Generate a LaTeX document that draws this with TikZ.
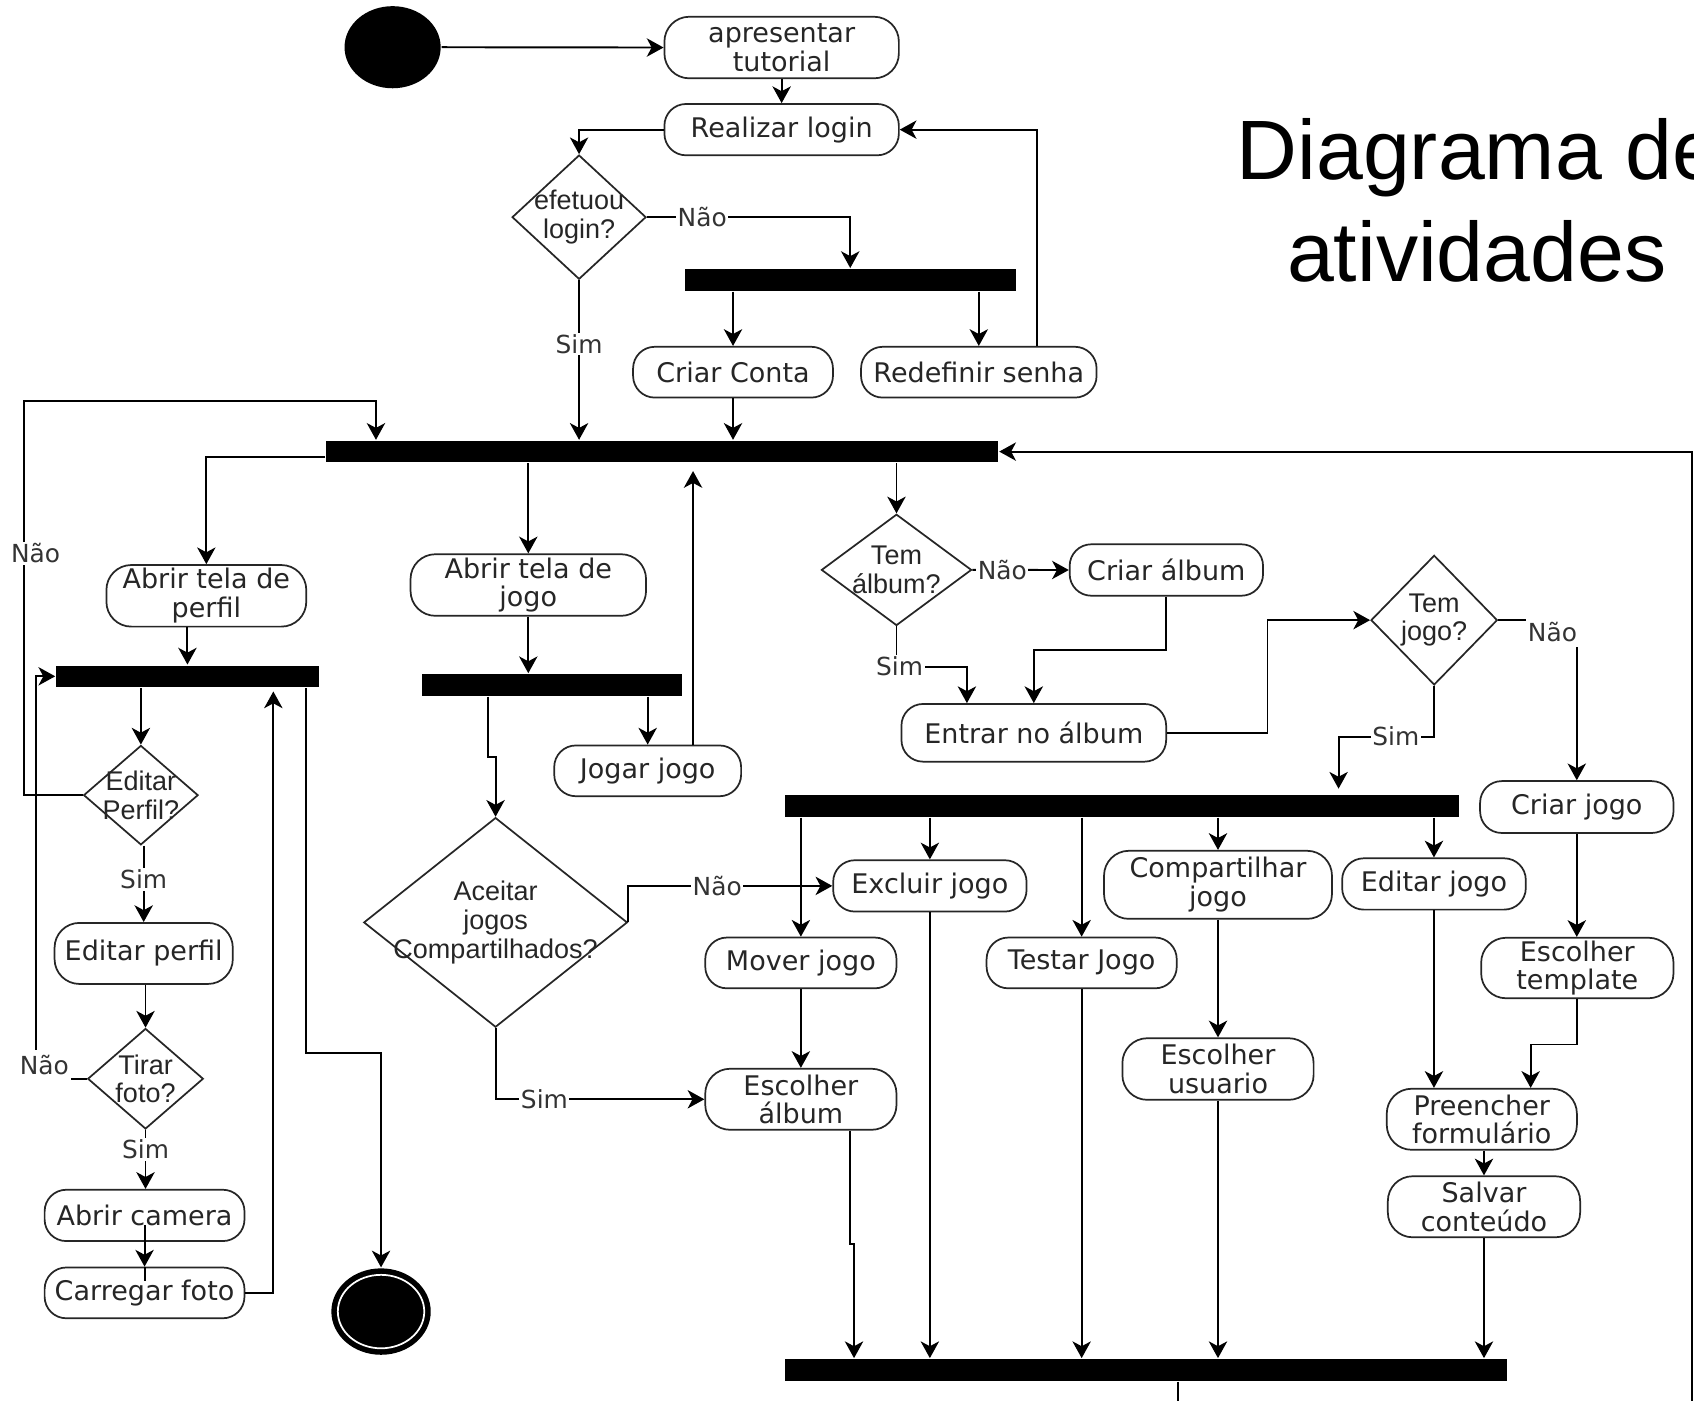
\documentclass[tikz,border=0pt]{standalone}
\usepackage{fontspec}
\newfontfamily\boxfont{DejaVu Sans}
\newfontfamily\helv{Liberation Sans}
\usetikzlibrary{shapes.geometric,arrows.meta}

\begin{document}
\begin{tikzpicture}[x=1pt,y=-1pt,
  line width=1.8pt,
  act/.style={draw=black!85, line width=1.6pt, rounded corners=20pt, inner sep=0pt,
    align=center, font=\boxfont\fontsize{25}{26.5}\selectfont, text=black!85},
  tall/.style={rounded corners=23pt},
  bar/.style={fill=black, draw=none, inner sep=0pt, minimum height=20pt},
  dec/.style={diamond, draw=black!85, line width=1.6pt, inner sep=0pt},
  dtext/.style={inner sep=0pt, align=center, font=\helv\fontsize{25}{26.5}\selectfont, text=black!85},
  lbl/.style={fill=white, inner sep=1.5pt, font=\boxfont\fontsize{23}{25}\selectfont, text=black!80},
  cornerlbl/.style={lbl, inner xsep=2pt, minimum height=28pt},
  arr/.style={-{Stealth[length=15.5pt,width=17pt,inset=4.5pt]}},
]
\useasboundingbox (0,0) rectangle (1568,1296);
\clip (0,0) rectangle (1568,1296);
\fill[white] (0,0) rectangle (1568,1296);

% ---------- title ----------
\node[anchor=base, inner sep=0pt, font=\helv\fontsize{78}{90}\selectfont] (title1) at (1368,166) {Diagrama de};
\node[anchor=base, inner sep=0pt, font=\helv\fontsize{78}{90}\selectfont] (title2) at (1367,260.7) {atividades};

% ---------- login part ----------
\node[ellipse, fill=black, minimum width=89pt, minimum height=76pt, inner sep=0pt] (start) at (363.4,43.7) {};
\node[act, tall, minimum width=217pt, minimum height=57pt] (tut) at (723.5,44) {apresentar\\tutorial};
\node[act, minimum width=217pt, minimum height=47.5pt] (login) at (723.5,120) {Realizar login};
\node[dec, minimum width=124pt, minimum height=115pt] (efe) at (536,201) {};
\node[dtext] (efe-t) at (efe) {efetuou\\login?};
\node[bar, minimum width=306pt] (fork1) at (787,259) {};
\node[act, minimum width=185pt, minimum height=47pt] (conta) at (678.5,344.5) {Criar Conta};
\node[act, minimum width=218pt, minimum height=47pt] (senha) at (906,344.5) {Redefinir senha};
\node[bar, minimum width=622pt] (main) at (613,418) {};

% ---------- profile branch ----------
\node[act, tall, minimum width=185pt, minimum height=57pt] (perfil) at (191,551.5) {Abrir tela de\\perfil};
\node[bar, minimum width=243pt] (fork2) at (173.5,626) {};
\node[dec, minimum width=106pt, minimum height=92pt] (edp) at (130.4,736) {};
\node[dtext] (edp-t) at (edp) {Editar\\Perfil?};
\node[act, tall, minimum width=165pt, minimum height=56.5pt] (edit) at (133,882.5) {Editar perfil};
\node[dec, minimum width=107pt, minimum height=93pt] (tirar) at (134.7,998.5) {};
\node[dtext] (tirar-t) at (tirar) {Tirar\\foto?};
\node[act, minimum width=185pt, minimum height=47.5pt] (cam) at (133.8,1125) {Abrir camera};
\node[act, minimum width=185pt, minimum height=47pt] (foto) at (133.8,1196.7) {Carregar foto};
\node[ellipse, fill=black, minimum width=92pt, minimum height=80pt, inner sep=0pt] (final) at (352.7,1214) {};
\draw[white, line width=1.6pt] (final.center) ellipse [x radius=40pt, y radius=34pt];

% ---------- game branch ----------
\node[act, tall, minimum width=218pt, minimum height=57pt] (jogo) at (489,541.5) {Abrir tela de\\jogo};
\node[bar, minimum width=240.5pt] (fork3) at (510.7,634) {};
\node[act, minimum width=173pt, minimum height=47pt] (jogar) at (599.5,713.5) {Jogar jogo};
\node[dec, minimum width=244pt, minimum height=194pt] (acc) at (458.7,853.8) {};
\node[dtext] (acc-t) at (acc) {Aceitar\\jogos\\Compartilhados?};

% ---------- album branch ----------
\node[dec, minimum width=139pt, minimum height=103pt] (tal) at (829.8,527.5) {};
\node[dtext] (tal-t) at (tal) {Tem\\álbum?};
\node[act, minimum width=179pt, minimum height=47.6pt] (calb) at (1079.6,527.6) {Criar álbum};
\node[act, minimum width=245pt, minimum height=53.4pt] (entrar) at (956.9,678.3) {Entrar no álbum};
\node[dec, minimum width=117pt, minimum height=120pt] (tjo) at (1327.5,574) {};
\node[dtext] (tjo-t) at (tjo) {Tem\\jogo?};
\node[bar, minimum width=623pt] (fork4) at (1038.5,746) {};
\node[act, minimum width=179pt, minimum height=48pt] (cjogo) at (1459.5,747) {Criar jogo};
\node[act, minimum width=179pt, minimum height=47.5pt] (excl) at (860.7,820) {Excluir jogo};
\node[act, minimum width=177pt, minimum height=47pt] (mover) at (741.3,891.3) {Mover jogo};
\node[act, minimum width=176pt, minimum height=47pt] (testar) at (1001.2,891.3) {Testar Jogo};
\node[act, tall, minimum width=211pt, minimum height=63pt] (comp) at (1127.4,819) {Compartilhar\\jogo};
\node[act, minimum width=170pt, minimum height=47.5pt] (editj) at (1327.3,818.2) {Editar jogo};
\node[act, tall, minimum width=177pt, minimum height=56.5pt] (escalb) at (741.3,1017.5) {Escolher\\álbum};
\node[act, tall, minimum width=177pt, minimum height=57pt] (escus) at (1127.4,989.5) {Escolher\\usuario};
\node[act, tall, minimum width=178pt, minimum height=56pt] (templ) at (1460,896) {Escolher\\template};
\node[act, tall, minimum width=176pt, minimum height=56.5pt] (preen) at (1371.6,1036) {Preencher\\formulário};
\node[act, tall, minimum width=178pt, minimum height=56.5pt] (salvar) at (1373.6,1117) {Salvar\\conteúdo};
\node[bar, minimum width=668pt] (fork5) at (1061,1268) {};

% ---------- bend points ----------
\coordinate (nl) at (22,371);
\coordinate (nr) at (348,371);
\coordinate (up1) at (641.5,436);
\coordinate (b1) at (452,701);
\coordinate (b2) at (283,974.5);
\coordinate (b3) at (253,640);
\coordinate (b4) at (33,626);
\coordinate (b5) at (895,617);
\coordinate (b6) at (956.9,601.6);
\coordinate (b7) at (1173.2,678.3);
\coordinate (b8) at (1239,681.8);
\coordinate (b8e) at (1239,730);
\coordinate (b9) at (787,1151.8);
\coordinate (b10) at (790.5,1151.8);
\coordinate (b11) at (1416.8,966.8);
\coordinate (b12) at (1090,1300);
\coordinate (b13) at (1566.5,1300);

% ---------- connectors: login part ----------
\draw[arr] (start.east) -- (tut.west);
\draw[arr] (tut.south) -- (login.north);
\draw[arr] (login.west) -| (efe.north);
\draw[arr] (efe.east) -| (fork1.north) node[lbl, pos=0.136] (l-n1) {Não};
\draw[arr] (fork1.south -| conta) -- (conta);
\draw[arr] (fork1.south -| senha) -- (senha);
\draw[arr] ([xshift=54pt]senha.north) |- (login.east);
\draw[arr] (efe.south) -- (efe.south |- main.north) node[lbl, pos=0.40] (l-s1) {Sim};
\draw[arr] (conta) -- (conta |- main.north);
\draw[arr] (edp.west) -| (nl) -- (nr) -- (nr |- main.north);
\node[lbl] (l-n2) at (33,512) {Não};

% ---------- connectors: main fork ----------
\draw[arr] ([yshift=-5pt]main.west) -| (perfil.north);
\draw[arr] (main.south -| jogo) -- (jogo);
\draw[arr] (up1 |- jogar.north) -- (up1);
\draw[arr] (main.south -| tal) -- (tal);

% ---------- connectors: profile branch ----------
\draw[arr] (perfil.south -| fork2) -- (fork2);
\draw[arr] (fork2.south -| edp) -- (edp);
\draw[arr] (fork2.south -| b2) -- (b2) -| (final.north);
\draw[arr] (foto.east) -| (b3);
\draw[arr] (tirar.west) -| (b4) -- (fork2.west);
\node[cornerlbl] (l-n3) at (41,986) {Não};
\draw[arr] (edit |- edp.south) -- (edit) node[lbl, pos=0.44] (l-s2) {Sim};
\draw[arr] (edit.south -| tirar) -- (tirar);
\draw[arr] (tirar.south) -- (tirar.south |- cam.north) node[lbl, pos=0.33] (l-s3) {Sim};
\draw[arr] ([yshift=-9pt]cam.center) -- (foto.north);
\draw (foto.north) -- ++(0,13);

% ---------- connectors: game branch ----------
\draw[arr] (jogo) -- (jogo |- fork3.north);
\draw[arr] (fork3.south -| b1) -- (b1) -- (b1 -| acc.north) -- (acc.north);
\draw[arr] (fork3.south -| jogar) -- (jogar);
\draw[arr] (acc.east) |- (excl.west) node[lbl, pos=0.718] (l-n4) {Não};
\draw[arr] (acc.south) |- (escalb.west) node[lbl, pos=0.617] (l-s4) {Sim};

% ---------- connectors: album branch ----------
\draw[arr] (tal.east) -- (calb.west) node[lbl, pos=0.31] (l-n5) {Não};
\draw[arr] (tal.south) |- (b5) -- (b5 |- entrar.north);
\node[lbl] (l-s5) at (832.7,617) {Sim};
\draw[arr] (calb.south) |- (b6) -- (entrar.north);
\draw[arr] (entrar.east) -- (b7) |- (tjo.west);
\draw[arr] (tjo.east) -| (cjogo.north);
\node[cornerlbl] (l-n6) at (1437,585) {Não};
\draw[arr] (tjo.south) |- (b8) -- (b8e);
\node[lbl] (l-s6) at (1292,681.8) {Sim};
\draw[arr] (fork4.south -| mover) -- (mover);
\draw[arr] (fork4.south -| excl) -- (excl);
\draw[arr] (fork4.south -| testar) -- (testar);
\draw[arr] (fork4.south -| comp) -- (comp);
\draw[arr] (fork4.south -| editj) -- (editj);
\draw[arr] (cjogo.south) -- (cjogo.south |- templ.north);
\draw[arr] (mover) -- (escalb);
\draw[arr] (b9 |- escalb.south) -- (b9) -- (b10) -- (b10 |- fork5.north);
\draw[arr] (excl) -- (excl |- fork5.north);
\draw[arr] (testar) -- (testar |- fork5.north);
\draw[arr] (comp) -- (escus);
\draw[arr] (escus) -- (escus |- fork5.north);
\draw[arr] (editj.south) -- (editj.south |- preen.north);
\draw[arr] (templ.south) |- (b11) -- (b11 |- preen.north);
\draw[arr] (preen.south -| salvar) -- (salvar);
\draw[arr] (salvar) -- (salvar |- fork5.north);
\draw (fork5.south -| b12) -- (b12);
\draw[arr] (b13) |- (main.east);
\end{tikzpicture}
\end{document}
